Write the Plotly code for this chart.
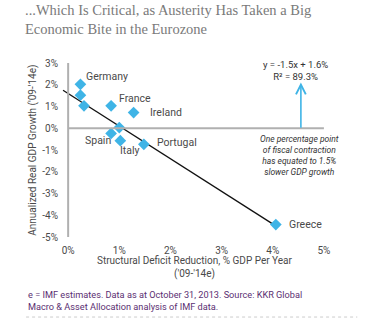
import plotly.graph_objects as go

# Eurozone: structural deficit reduction vs. annualized real GDP growth, '09-'14e (%)
countries = ["Germany", "", "", "France", "Ireland", "", "Spain", "Italy", "Portugal", "Greece"]
deficit_reduction = [0.24, 0.24, 0.31, 0.84, 1.28, 1.00, 0.84, 1.02, 1.48, 4.06]
gdp_growth = [2.02, 1.52, 1.03, 1.03, 0.72, 0.03, -0.24, -0.57, -0.74, -4.43]

# Regression line y = -1.5x + 1.6
slope = -1.5
intercept = 1.6
trend_x = [-0.1, 4.02]
trend_y = [slope * v + intercept for v in trend_x]

x_ticks = [0, 1, 2, 3, 4, 5]
y_ticks = [3, 2, 1, 0, -1, -2, -3, -4, -5]

BLUE = "#3fb4e6"
AXIS_GRAY = "#b0b0b0"
TEXT = "#4a4a4a"
SANS = "Roboto, 'Liberation Sans', sans-serif"

# label offsets in pixels (dx, dy, anchor)
label_style = {
    "Germany": (4, -8, "left"),
    "France": (6, -7, "left"),
    "Ireland": (14, 0, "left"),
    "Spain": (2, 7, "right"),
    "Italy": (-2, 10, "left"),
    "Portugal": (11, -2, "left"),
    "Greece": (11, 0, "left"),
}

fig = go.Figure()

# axis lines
fig.add_shape(type="line", x0=0, x1=0, y0=-5, y1=3, xref="x", yref="y",
              line=dict(color=AXIS_GRAY, width=2))
fig.add_shape(type="line", x0=0, x1=5, y0=0, y1=0, xref="x", yref="y",
              line=dict(color=AXIS_GRAY, width=2))

fig.add_trace(go.Scatter(
    x=trend_x, y=trend_y, mode="lines",
    line=dict(color="#111111", width=1.3), hoverinfo="skip", showlegend=False,
))

fig.add_trace(go.Scatter(
    x=deficit_reduction, y=gdp_growth, mode="markers",
    marker=dict(symbol="diamond", size=9, color=BLUE),
    text=countries, showlegend=False,
))

for name, xv, yv in zip(countries, deficit_reduction, gdp_growth):
    if not name:
        continue
    dx, dy, anchor = label_style[name]
    fig.add_annotation(
        x=xv, y=yv, text=name, showarrow=False, xanchor=anchor, yanchor="middle",
        xshift=dx, yshift=-dy, font=dict(family=SANS, size=10.5, color=TEXT),
    )

# regression equation
fig.add_annotation(
    x=4.45, y=2.64, text=f"y = {slope}x + {intercept}%<br>R² = 89.3%",
    showarrow=False, xanchor="center", yanchor="middle",
    font=dict(family=SANS, size=9.5, color="#333333"),
)

# pointer arrow
fig.add_annotation(
    x=4.55, y=2.1, ax=4.55, ay=-0.05, axref="x", ayref="y", xref="x", yref="y",
    text="", showarrow=True, arrowhead=5, arrowsize=1.2, arrowwidth=1.6,
    arrowcolor=BLUE,
)

fig.add_annotation(
    x=4.53, y=-1.24,
    text=("<i>One percentage point<br>of fiscal contraction<br>"
          "has equated to 1.5%<br>slower GDP growth</i>"),
    showarrow=False, xanchor="center", yanchor="middle",
    font=dict(family=SANS, size=8.5, color="#333333"),
)

# title
fig.add_annotation(
    xref="paper", yref="paper", x=-0.145, y=1.36, xanchor="left", yanchor="top",
    text="...Which Is Critical, as Austerity Has Taken a Big<br>Economic Bite in the Eurozone",
    showarrow=False, align="left",
    font=dict(family="'Liberation Serif', serif", size=14.5, color="#7a7a7a"),
)

# axis titles
fig.add_annotation(
    xref="paper", yref="paper", x=-0.11, y=0.5, textangle=-90,
    text="Annualized Real GDP Growth ('09-'14e)", showarrow=False,
    xanchor="center", yanchor="middle",
    font=dict(family=SANS, size=10, color=TEXT),
)
fig.add_annotation(
    xref="paper", yref="paper", x=0.5, y=-0.09, yanchor="top",
    text="Structural Deficit Reduction, % GDP Per Year<br>('09-'14e)",
    showarrow=False, xanchor="center", align="center",
    font=dict(family=SANS, size=10, color=TEXT),
)

# source note
fig.add_annotation(
    xref="paper", yref="paper", x=-0.135, y=-0.29, xanchor="left", yanchor="top",
    text=("e = IMF estimates. Data as at October 31, 2013. Source: KKR Global<br>"
          "Macro &amp; Asset Allocation analysis of IMF data."),
    showarrow=False, align="left",
    font=dict(family=SANS, size=9.2, color="#5b2f72"),
)
fig.add_shape(type="line", xref="paper", yref="paper", x0=-0.135, x1=1.11,
              y0=-0.46, y1=-0.46, line=dict(color="#cccccc", width=1, dash="dot"))

fig.update_layout(
    width=375, height=328,
    margin=dict(l=62, r=47, t=63, b=91),
    paper_bgcolor="white", plot_bgcolor="white",
    xaxis=dict(range=[-0.12, 5.08], tickvals=x_ticks,
               ticktext=[f"{v}%" for v in x_ticks], showgrid=False, zeroline=False,
               showline=False, ticks="", ticklabelstandoff=6,
               tickfont=dict(family=SANS, size=10, color=TEXT)),
    yaxis=dict(range=[-5, 3], tickvals=y_ticks,
               ticktext=[f"{v}%" for v in y_ticks], showgrid=False, zeroline=False,
               showline=False, ticks="", ticklabelstandoff=3,
               tickfont=dict(family=SANS, size=10, color=TEXT)),
    font=dict(family=SANS),
)

fig.write_html("out.html")
